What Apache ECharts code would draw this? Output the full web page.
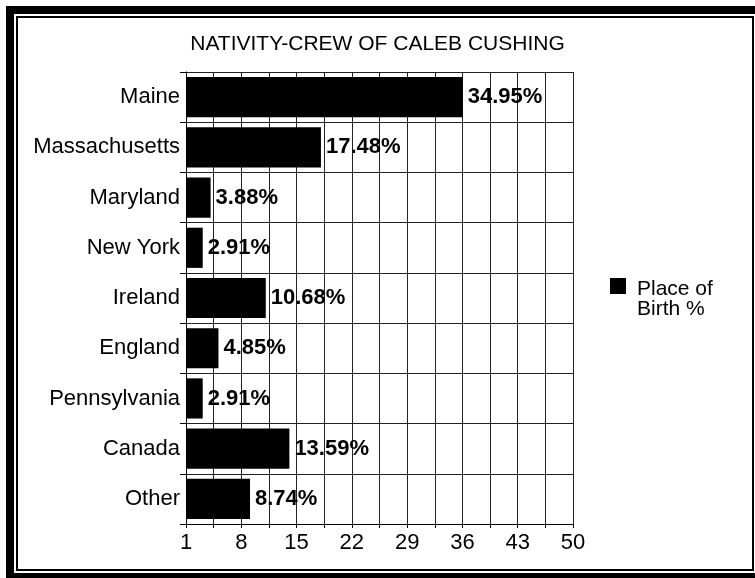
<!DOCTYPE html>
<html>
<head>
<meta charset="utf-8">
<script src="https://cdn.jsdelivr.net/npm/echarts@6/dist/echarts.min.js"></script>
<style>
html,body{margin:0;padding:0;background:#fff;}
#chart{width:755px;height:578px;}
</style>
</head>
<body>
<div id="chart"></div>
<script>
var categories = ['Maine','Massachusetts','Maryland','New York','Ireland','England','Pennsylvania','Canada','Other'];
var values = [34.95, 17.48, 3.88, 2.91, 10.68, 4.85, 2.91, 13.59, 8.74];
var tickLabels = ['1','8','15','22','29','36','43','50'];
var seriesName = 'Place of Birth %';
var legendLines = ['Place of', 'Birth %'];
var titleText = 'NATIVITY-CREW OF CALEB CUSHING';

var FONT = '"Liberation Sans", Arial, sans-serif';
var chart = echarts.init(document.getElementById('chart'), null, {renderer:'canvas'});
chart.setOption({
  backgroundColor: '#fff',
  animation: false,
  title: {
    text: titleText,
    left: 'center',
    top: 34,
    padding: 0,
    textStyle: {fontFamily: FONT, fontSize: 21, fontWeight: 'normal', color: '#000'}
  },
  legend: {
    data: [seriesName],
    left: 610,
    top: 261,
    padding: 0,
    icon: 'rect',
    itemWidth: 16,
    itemHeight: 16,
    formatter: function(){ return '{e| }\n{a|' + legendLines[0] + '}\n{a|' + legendLines[1] + '}'; },
    textStyle: {
      fontFamily: FONT, fontSize: 21, color: '#000',
      rich: {
        e: {fontSize: 10, lineHeight: 27, fontFamily: FONT},
        a: {fontSize: 21, lineHeight: 20, fontFamily: FONT, color: '#000', padding: [0,0,0,6]}
      }
    }
  },
  grid: {left: 186, right: 182, top: 72, bottom: 54, containLabel: false},
  xAxis: [{
    type: 'value',
    min: 0, max: 49, interval: 7,
    position: 'bottom',
    axisLine: {show: true, lineStyle: {color: '#000', width: 1}},
    axisTick: {show: true, length: 4, lineStyle: {color: '#000'}},
    minorTick: {show: true, splitNumber: 2, length: 4, lineStyle: {color: '#000'}},
    splitLine: {show: true, lineStyle: {color: '#222', width: 1}},
    minorSplitLine: {show: true, lineStyle: {color: '#222', width: 1}},
    axisLabel: {
      show: true, margin: 8, color: '#000', fontFamily: FONT, fontSize: 22,
      showMinLabel: true, showMaxLabel: true,
      formatter: function(v){ return tickLabels[Math.round(v/7)]; }
    }
  },{
    type: 'value',
    min: 0.85, max: 48.54,
    show: false,
    position: 'top',
    splitLine: {show: false}
  }],
  yAxis: {
    type: 'category',
    inverse: true,
    data: categories,
    axisLine: {show: true, lineStyle: {color: '#000', width: 1}},
    axisTick: {show: true, length: 6, lineStyle: {color: '#000'}},
    splitLine: {show: true, lineStyle: {color: '#222', width: 1}},
    axisLabel: {margin: 6, color: '#000', fontFamily: FONT, fontSize: 22}
  },
  series: [{
    name: seriesName,
    type: 'bar',
    xAxisIndex: 1,
    yAxisIndex: 0,
    data: values,
    barCategoryGap: '20%',
    itemStyle: {color: '#000'},
    label: {
      show: true, position: 'right', distance: 5,
      fontFamily: FONT, fontSize: 22, fontWeight: 'bold', color: '#000',
      formatter: function(p){ return p.value.toFixed(2) + '%'; }
    }
  }],
  graphic: [
    {type: 'rect', shape: {x: 10, y: 10, width: 752, height: 567}, style: {fill: 'none', stroke: '#000', lineWidth: 8}, silent: true},
    {type: 'rect', shape: {x: 17, y: 17, width: 736, height: 553}, style: {fill: 'none', stroke: '#000', lineWidth: 2}, silent: true}
  ]
});
</script>
</body>
</html>
